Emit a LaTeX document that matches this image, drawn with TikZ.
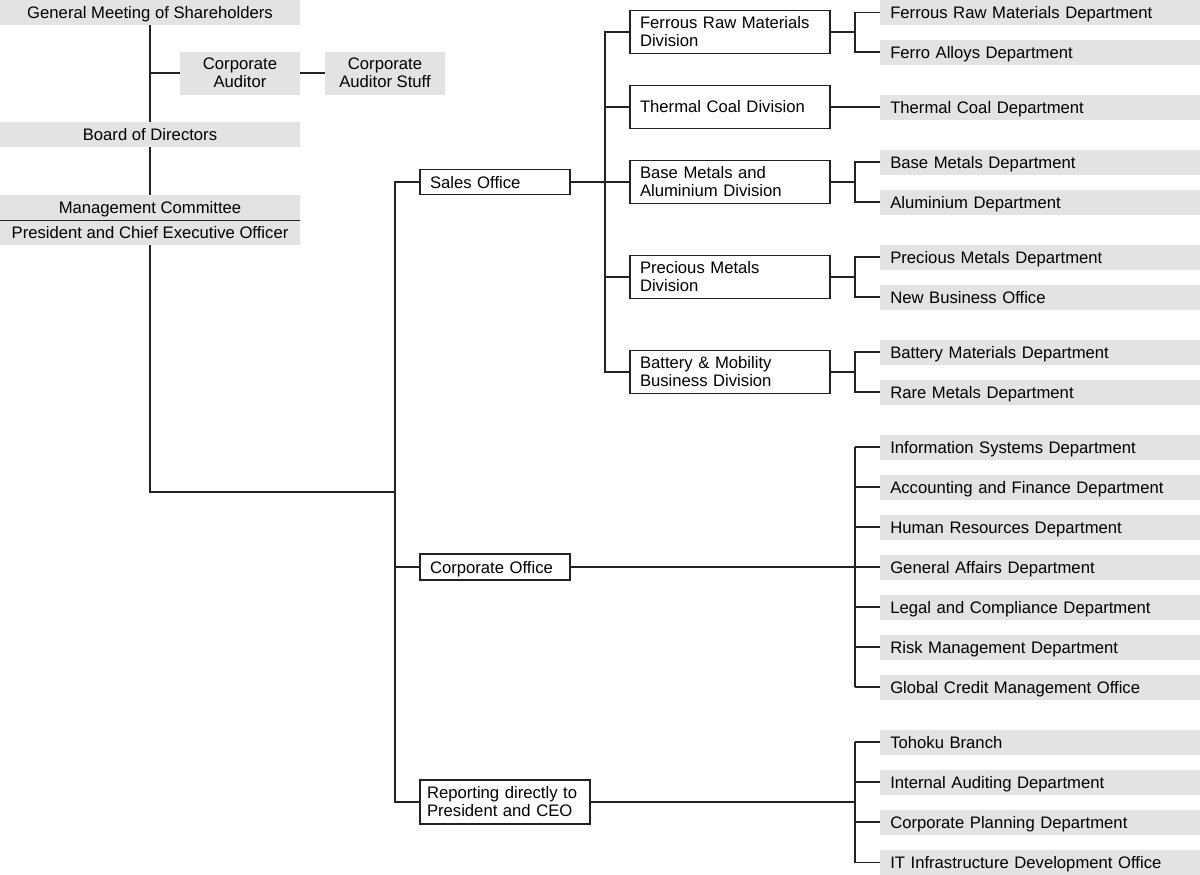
\documentclass[tikz,border=0pt]{standalone}
\usepackage{fontspec}
\setmainfont{Liberation Sans}
\usepackage{tikz}
\definecolor{boxgray}{HTML}{E3E3E3}
\definecolor{linegray}{HTML}{222222}

\begin{document}
\begin{tikzpicture}[x=0.75pt,y=-0.75pt,
    font=\fontsize{12.5}{13.5}\selectfont,
    link/.style={draw=linegray,line width=1pt},
    topbox/.style={fill=boxgray,draw=none,minimum width=225pt,minimum height=18.75pt,text height=9pt,text depth=0pt,inner sep=0pt,align=center},
    auditbox/.style={fill=boxgray,draw=none,minimum width=90pt,minimum height=32.25pt,inner sep=0pt,align=center},
    officebox/.style={draw=linegray,fill=white,line width=1pt,inner xsep=7.5pt,inner ysep=0pt,align=left},
    divbox/.style={draw=linegray,fill=white,line width=1pt,text width=135pt,minimum height=32.25pt,inner xsep=7.5pt,inner ysep=0pt,align=left},
    deptbox/.style={fill=boxgray,draw=none,anchor=west,text width=225pt,minimum height=18.75pt,text height=9pt,text depth=0pt,inner xsep=7.5pt,inner ysep=0pt,align=left}]
      \useasboundingbox (0,0) rectangle (1200,875);

      \node[topbox] (gm) at (150,12.5) {General Meeting of Shareholders};
      \node[auditbox] (ca) at (240,73) {Corporate\\Auditor};
      \node[auditbox] (cas) at (385,73) {Corporate\\Auditor Stuff};
      \node[topbox] (bod) at (150,134.5) {Board of Directors};
      \node[topbox] (mc) at (150,207.5) {Management Committee};
      \node[topbox] (pceo) at (150,232.5) {President and Chief Executive Officer};

      \node[officebox,text width=97.5pt,minimum height=18.75pt,text height=9pt,text depth=0pt] (so) at (495,182) {Sales Office};
      \node[officebox,text width=97.5pt,minimum height=19.5pt,text height=9pt,text depth=0pt] (co) at (495,567) {Corporate Office};
      \node[officebox,text width=117pt,inner xsep=5.25pt,minimum height=33pt] (rep) at (505,802) {Reporting directly to\\President and CEO};

      \node[divbox] (fr) at (730,32) {Ferrous Raw Materials\\Division};
      \node[divbox] (tc) at (730,107) {Thermal Coal Division};
      \node[divbox] (bm) at (730,182) {Base Metals and\\Aluminium Division};
      \node[divbox] (pm) at (730,277) {Precious Metals\\Division};
      \node[divbox] (bat) at (730,372) {Battery \& Mobility\\Business Division};

      \node[deptbox] (frd) at (880,12.5) {Ferrous Raw Materials Department};
      \node[deptbox] (fad) at (880,52) {Ferro Alloys Department};
      \node[deptbox] (tcd) at (880,107) {Thermal Coal Department};
      \node[deptbox] (bmd) at (880,162) {Base Metals Department};
      \node[deptbox] (ald) at (880,202) {Aluminium Department};
      \node[deptbox] (pmd) at (880,257) {Precious Metals Department};
      \node[deptbox] (nbo) at (880,297) {New Business Office};
      \node[deptbox] (bmat) at (880,352) {Battery Materials Department};
      \node[deptbox] (rmet) at (880,392) {Rare Metals Department};

      \node[deptbox] (isd) at (880,447) {Information Systems Department};
      \node[deptbox] (afd) at (880,487) {Accounting and Finance Department};
      \node[deptbox] (hrd) at (880,527) {Human Resources Department};
      \node[deptbox] (gad) at (880,567) {General Affairs Department};
      \node[deptbox] (lcd) at (880,607) {Legal and Compliance Department};
      \node[deptbox] (rmd) at (880,647) {Risk Management Department};
      \node[deptbox] (gcm) at (880,687) {Global Credit Management Office};

      \node[deptbox] (tb) at (880,742) {Tohoku Branch};
      \node[deptbox] (iad) at (880,782) {Internal Auditing Department};
      \node[deptbox] (cpd) at (880,822) {Corporate Planning Department};
      \node[deptbox] (itd) at (880,862.5) {IT Infrastructure Development Office};

      \coordinate (j1) at (395,492);
      \coordinate (j2) at (605,182);
      \coordinate (k) at (855,0);

      \draw[link] (mc.south west) -- (mc.south east);
      \draw[link] (gm) -- (bod);
      \draw[link] (bod) -- (mc);
      \draw[link] (ca.west) -- (ca.west -| gm);
      \draw[link] (ca) -- (cas);
      \draw[link] (pceo) |- (j1);

      \draw[link] (so.west) -| (j1) |- (rep.west);
      \draw[link] (co.west) -- (co.west -| j1);

      \draw[link] (so.east) -- (bm.west);
      \draw[link] (fr.west) -| (j2) |- (bat.west);
      \draw[link] (tc.west) -- (tc.west -| j2);
      \draw[link] (pm.west) -- (pm.west -| j2);

      \draw[link] (fr.east) -- (fr.east -| k);
      \draw[link] (frd.west) -- (frd.west -| k) -- (fad.west -| k) -- (fad.west);
      \draw[link] (tc) -- (tcd);
      \draw[link] (bm.east) -- (bm.east -| k);
      \draw[link] (bmd.west) -- (bmd.west -| k) -- (ald.west -| k) -- (ald.west);
      \draw[link] (pm.east) -- (pm.east -| k);
      \draw[link] (pmd.west) -- (pmd.west -| k) -- (nbo.west -| k) -- (nbo.west);
      \draw[link] (bat.east) -- (bat.east -| k);
      \draw[link] (bmat.west) -- (bmat.west -| k) -- (rmet.west -| k) -- (rmet.west);

      \draw[link] (co.east) -- (gad.west);
      \draw[link] (isd.west -| k) -- (gcm.west -| k);
      \foreach \n in {isd,afd,hrd,lcd,rmd,gcm}
        \draw[link] (\n.west) -- (\n.west -| k);

      \draw[link] (rep.east) -- (rep.east -| k);
      \draw[link] (tb.west -| k) -- (itd.west -| k);
      \foreach \n in {tb,iad,cpd,itd}
        \draw[link] (\n.west) -- (\n.west -| k);
\end{tikzpicture}
\end{document}
